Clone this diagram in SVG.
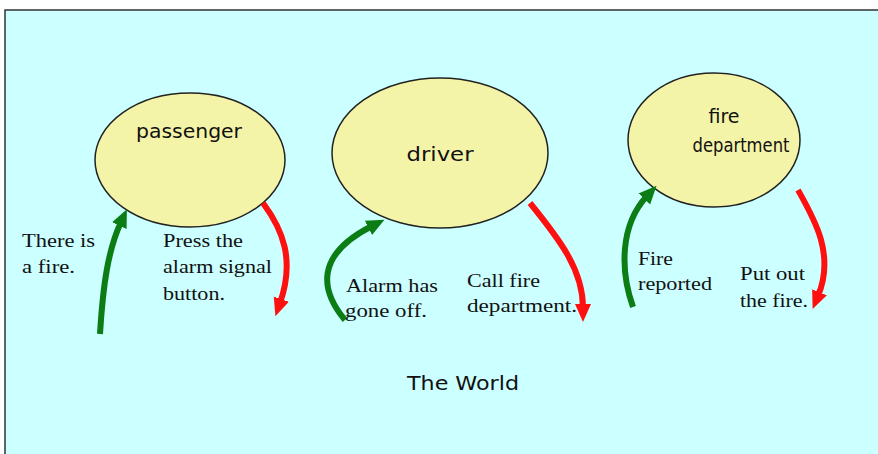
<svg xmlns="http://www.w3.org/2000/svg" width="878" height="454" viewBox="0 0 878 454">
<style>
.node ellipse{fill:#f4f4a8;stroke:#222;stroke-width:1.5}
.nl{font-family:"DejaVu Sans",sans-serif;font-size:19px;fill:#111;text-anchor:middle}
.t{font-family:"Liberation Serif",serif;font-size:18px;fill:#111}
.g{fill:none;stroke:#0b7d14;stroke-width:6;stroke-linecap:butt}
.r{fill:none;stroke:#ff1010;stroke-width:6;stroke-linecap:butt}
</style>
<defs>
<marker id="ag" markerUnits="userSpaceOnUse" markerWidth="20" markerHeight="20" refX="4" refY="8" orient="auto" viewBox="0 0 20 16">
<path d="M0,0 L18,8 L0,16 Z" fill="#0b7d14"/>
</marker>
<marker id="ar" markerUnits="userSpaceOnUse" markerWidth="20" markerHeight="20" refX="4" refY="8" orient="auto" viewBox="0 0 20 16">
<path d="M0,0 L18,8 L0,16 Z" fill="#ff1010"/>
</marker>
</defs>
<rect x="0" y="0" width="878" height="454" fill="#ffffff"/>
<rect x="5" y="10" width="880" height="450" fill="#ccffff" stroke="#333" stroke-width="1.5"/>
<g id="passenger" class="node">
<ellipse cx="190" cy="160" rx="95" ry="67"/>
<text class="nl" x="189" y="138" textLength="106" lengthAdjust="spacingAndGlyphs">passenger</text>
</g>
<g id="driver" class="node">
<ellipse cx="440" cy="153" rx="108" ry="75"/>
<text class="nl" x="440" y="161" textLength="67" lengthAdjust="spacingAndGlyphs">driver</text>
</g>
<g id="fire-department" class="node">
<ellipse cx="714" cy="140" rx="86" ry="67"/>
<text class="nl" x="724" y="123">fire</text>
<text class="nl" x="741" y="152" textLength="97" lengthAdjust="spacingAndGlyphs">department</text>
</g>
<g id="connectors">
<path class="g" d="M100,334 C103,285 108,250 121,222" marker-end="url(#ag)"/>
<path class="r" d="M263,203 C283,230 295,260 280,303" marker-end="url(#ar)"/>
<path class="g" d="M345,320 C320,290 315,255 372,226" marker-end="url(#ag)"/>
<path class="r" d="M530,203 C560,240 583,270 583,308" marker-end="url(#ar)"/>
<path class="g" d="M633,307 C620,270 620,225 647,196" marker-end="url(#ag)"/>
<path class="r" d="M798,190 C815,220 835,255 818,296" marker-end="url(#ar)"/>
</g>
<g id="labels">
<text class="t" x="22" y="247" textLength="73" lengthAdjust="spacingAndGlyphs">There is</text>
<text class="t" x="22" y="273" textLength="53" lengthAdjust="spacingAndGlyphs">a fire.</text>
<text class="t" x="163" y="247" textLength="80" lengthAdjust="spacingAndGlyphs">Press the</text>
<text class="t" x="163" y="273" textLength="109" lengthAdjust="spacingAndGlyphs">alarm signal</text>
<text class="t" x="163" y="300" textLength="62" lengthAdjust="spacingAndGlyphs">button.</text>
<text class="t" x="346" y="292" textLength="92" lengthAdjust="spacingAndGlyphs">Alarm has</text>
<text class="t" x="345" y="317" textLength="82" lengthAdjust="spacingAndGlyphs">gone off.</text>
<text class="t" x="467" y="287" textLength="73" lengthAdjust="spacingAndGlyphs">Call fire</text>
<text class="t" x="467" y="312" textLength="110" lengthAdjust="spacingAndGlyphs">department.</text>
<text class="t" x="638" y="265" textLength="35" lengthAdjust="spacingAndGlyphs">Fire</text>
<text class="t" x="638" y="290" textLength="74" lengthAdjust="spacingAndGlyphs">reported</text>
<text class="t" x="740" y="280" textLength="65" lengthAdjust="spacingAndGlyphs">Put out</text>
<text class="t" x="740" y="307" textLength="68" lengthAdjust="spacingAndGlyphs">the fire.</text>
<text class="nl" x="463" y="390" textLength="112" lengthAdjust="spacingAndGlyphs">The World</text>
</g>
</svg>
